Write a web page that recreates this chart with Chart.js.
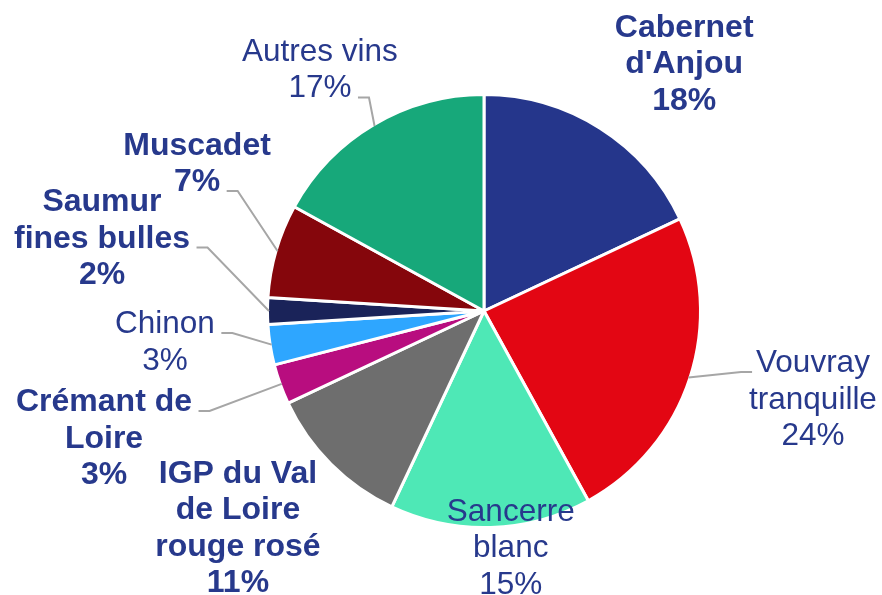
<!DOCTYPE html>
<html>
<head>
<meta charset="utf-8">
<script src="https://cdn.jsdelivr.net/npm/chart.js@4"></script>
<style>
html,body{margin:0;padding:0;background:#fff;}
#wrap{width:882px;height:595px;}
</style>
</head>
<body>
<div id="wrap"><canvas id="c" width="882" height="595"></canvas></div>
<script>
// ---- data ----
const categories = ["Cabernet d'Anjou", "Vouvray tranquille", "Sancerre blanc", "IGP du Val de Loire rouge rosé", "Crémant de Loire", "Chinon", "Saumur fines bulles", "Muscadet", "Autres vins"];
const shares = [18, 24, 15, 11, 3, 3, 2, 7, 17];
const labelLines = [
  ["Cabernet", "d'Anjou"],
  ["Vouvray", "tranquille"],
  ["Sancerre", "blanc"],
  ["IGP du Val", "de Loire", "rouge rosé"],
  ["Crémant de", "Loire"],
  ["Chinon"],
  ["Saumur", "fines bulles"],
  ["Muscadet"],
  ["Autres vins"]
];

// ---- styles / layout ----
const sliceColors = ["#25368B", "#E30613", "#4EE8B6", "#6E6E6E", "#B80D7F", "#2EA6FF", "#1A2359", "#85060C", "#17A87A"];
const boldLabel = [true, false, false, true, true, false, true, true, false];
// label offset (center x, first baseline) from slice outer mid-point
const labelOffset = [[85, -92.5], [124.5, -5.4], [20, -5], [-94, 19.5], [-177.7, 27.2], [-106.7, -11.6], [-167, -100], [-80.5, -96.5], [-54.6, -65]];
// leader: line index it attaches to (-1 = none)
const leaderLine = [-1, 0, -1, -1, 0, 0, 1, 1, 1];
const textColor = "#27398C";
const leaderColor = "#A6A6A6";
const lineH = 36.5;

const labelPlugin = {
  id: 'pieLabels',
  afterDatasetsDraw(chart) {
    const ctx = chart.ctx;
    const meta = chart.getDatasetMeta(0);
    meta.data.forEach((arc, i) => {
      const p = arc.getProps(['x', 'y', 'startAngle', 'endAngle', 'outerRadius'], true);
      const mid = (p.startAngle + p.endAngle) / 2;
      const R = p.outerRadius - 1.5;
      const ex = p.x + Math.cos(mid) * R;
      const ey = p.y + Math.sin(mid) * R;
      const cx = ex + labelOffset[i][0];
      const by = ey + labelOffset[i][1];
      const lines = labelLines[i].concat([shares[i] + "%"]);
      ctx.save();
      ctx.font = (boldLabel[i] ? "bold 32px" : "31.5px") + " 'Liberation Sans', Arial, sans-serif";
      ctx.fillStyle = textColor;
      ctx.textAlign = "center";
      ctx.textBaseline = "alphabetic";
      lines.forEach((t, k) => ctx.fillText(t, cx, by + k * lineH));
      const li = leaderLine[i];
      if (li >= 0) {
        const w = ctx.measureText(lines[li]).width;
        const ly = by + li * lineH;
        let sx, elx;
        if (cx < ex) { sx = cx + w / 2 + 6.5; elx = sx + 11; }
        else { sx = cx - w / 2 - 4; elx = sx - 11; }
        ctx.strokeStyle = leaderColor;
        ctx.lineWidth = 2;
        ctx.beginPath();
        ctx.moveTo(sx, ly);
        ctx.lineTo(elx, ly);
        ctx.lineTo(ex, ey);
        ctx.stroke();
      }
      ctx.restore();
    });
  }
};

new Chart(document.getElementById('c'), {
  type: 'pie',
  data: {
    labels: categories,
    datasets: [{
      data: shares,
      backgroundColor: sliceColors,
      borderColor: '#ffffff',
      borderWidth: 3
    }]
  },
  options: {
    responsive: false,
    animation: false,
    layout: { padding: { top: 93, bottom: 66, left: 266, right: 180 } },
    plugins: { legend: { display: false }, tooltip: { enabled: false } }
  },
  plugins: [labelPlugin]
});
</script>
</body>
</html>
